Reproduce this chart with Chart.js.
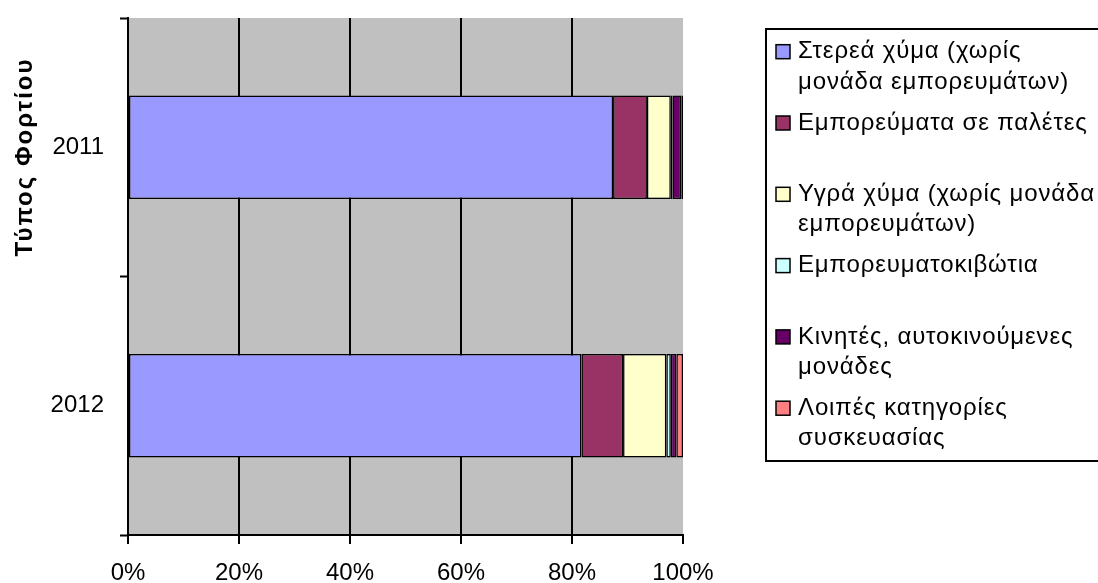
<!DOCTYPE html>
<html>
<head>
<meta charset="utf-8">
<script src="https://cdn.jsdelivr.net/npm/chart.js@4/dist/chart.umd.min.js"></script>
<style>
  html, body { margin: 0; padding: 0; background: #fff; }
  #wrap { width: 1098px; height: 583px; position: relative; }
</style>
</head>
<body>
<div id="wrap"><canvas id="c" width="1098" height="583"></canvas></div>
<script>
// ---- data ----
const categories = ['2011', '2012'];
const seriesNames = [
  'Στερεά χύμα (χωρίς μονάδα εμπορευμάτων)',
  'Εμπορεύματα σε παλέτες',
  'Υγρά χύμα (χωρίς μονάδα εμπορευμάτων)',
  'Εμπορευματοκιβώτια',
  'Κινητές, αυτοκινούμενες μονάδες',
  'Λοιπές κατηγορίες συσκευασίας'
];
const solidBulk   = [87.4, 81.7];
const palletised  = [6.1, 7.5];
const liquidBulk  = [4.3, 7.8];
const containers  = [0.3, 0.8];
const roro        = [1.6, 1.0];
const otherTypes  = [0.3, 1.2];
const xTickValues = [0, 20, 40, 60, 80, 100];
const yAxisTitle = 'Τύπος Φορτίου';

const seriesValues = [solidBulk, palletised, liquidBulk, containers, roro, otherTypes];
const seriesColors = ['#9999FF', '#993366', '#FFFFCC', '#CCFFFF', '#660066', '#FF8080'];

const FONT = '"Liberation Sans", Arial, sans-serif';

const datasets = seriesNames.map((name, i) => ({
  label: name,
  data: seriesValues[i],
  backgroundColor: seriesColors[i],
  borderColor: '#000',
  borderWidth: 1.5,
  borderSkipped: false,
  barPercentage: 0.4,
  categoryPercentage: 1.0
}));

const bgPlugin = {
  id: 'plotBg',
  beforeDraw(chart) {
    const { ctx, chartArea: a } = chart;
    ctx.save();
    ctx.fillStyle = '#C0C0C0';
    ctx.fillRect(a.left, a.top, a.right - a.left, a.bottom - a.top);
    ctx.restore();
  }
};

const overlayPlugin = {
  id: 'overlay',
  afterDraw(chart) {
    const ctx = chart.ctx;
    ctx.save();
    // y-axis title
    ctx.fillStyle = '#000';
    ctx.font = 'bold 24px ' + FONT;
    ctx.letterSpacing = '2px';
    ctx.textAlign = 'center';
    ctx.textBaseline = 'middle';
    ctx.translate(25, 157);
    ctx.rotate(-Math.PI / 2);
    ctx.fillText(yAxisTitle, 0, 0);
    ctx.restore();

    // legend
    ctx.save();
    const boxL = 766, boxT = 29, boxB = 461;
    ctx.lineWidth = 2;
    ctx.strokeStyle = '#000';
    ctx.strokeRect(boxL, boxT, 1100 - boxL, boxB - boxT);
    ctx.font = '24px ' + FONT;
    ctx.letterSpacing = '0.85px';
    ctx.textAlign = 'left';
    ctx.textBaseline = 'middle';
    const textX = 798, maxW = 306, slot = 71.3, lineH = 30.5;
    chart.data.datasets.forEach((ds, i) => {
      const y0 = 51.7 + i * slot;
      const words = ds.label.split(' ');
      const lines = [];
      let cur = '';
      words.forEach(w => {
        const t = cur ? cur + ' ' + w : w;
        if (ctx.measureText(t).width > maxW && cur) { lines.push(cur); cur = w; }
        else cur = t;
      });
      if (cur) lines.push(cur);
      ctx.fillStyle = ds.backgroundColor;
      ctx.fillRect(776, y0 - 7, 14, 14);
      ctx.lineWidth = 1.5;
      ctx.strokeRect(776, y0 - 7, 14, 14);
      ctx.fillStyle = '#000';
      lines.forEach((ln, k) => ctx.fillText(ln, textX, y0 + k * lineH));
    });
    ctx.restore();
  }
};

new Chart(document.getElementById('c'), {
  type: 'bar',
  data: { labels: categories, datasets },
  options: {
    indexAxis: 'y',
    responsive: false,
    devicePixelRatio: 1,
    animation: false,
    layout: { padding: { top: 18, right: 415, left: 0, bottom: 0 } },
    plugins: { legend: { display: false }, tooltip: { enabled: false }, title: { display: false } },
    scales: {
      x: {
        stacked: true,
        min: 0, max: 100,
        afterBuildTicks(scale) { scale.ticks = xTickValues.map(v => ({ value: v })); },
        afterFit(scale) { scale.height = 48; scale.paddingLeft = 0; scale.paddingRight = 0; },
        border: { color: '#000', width: 2 },
        grid: {
          color: (c) => (c.tick && c.tick.value === 100) ? 'rgba(0,0,0,0)' : '#000',
          lineWidth: 2,
          tickLength: 9,
          tickColor: '#000',
          tickWidth: 2
        },
        ticks: {
          color: '#000',
          font: { family: FONT, size: 24 },
          padding: 15,
          maxRotation: 0,
          autoSkip: false,
          callback: (v) => v + '%'
        }
      },
      y: {
        stacked: true,
        afterFit(scale) { scale.width = 128; scale.paddingTop = 0; scale.paddingBottom = 0; },
        border: { color: '#000', width: 2 },
        grid: {
          offset: true,
          drawOnChartArea: false,
          tickLength: 8,
          tickColor: '#000',
          tickWidth: 2
        },
        ticks: {
          color: '#000',
          font: { family: FONT, size: 24 },
          padding: 16
        }
      }
    }
  },
  plugins: [bgPlugin, overlayPlugin]
});
</script>
</body>
</html>
